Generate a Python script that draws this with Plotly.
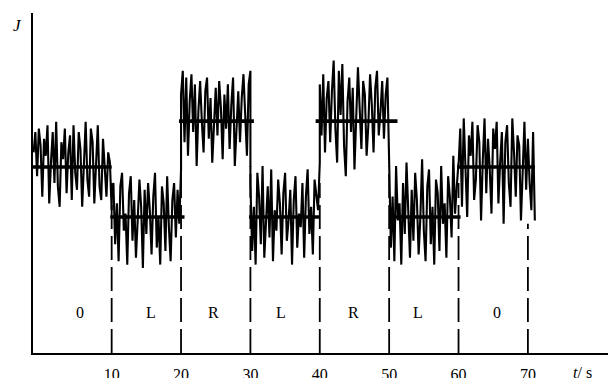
import numpy as np
import plotly.graph_objects as go

# --- data ---------------------------------------------------------------
tick_vals = [10, 20, 30, 40, 50, 60, 70]
tick_text = ["10", "20", "30", "40", "50", "60", "70"]

state_labels = ["0", "L", "R", "L", "R", "L", "0"]
label_t = [5.5, 15.7, 24.7, 34.4, 44.8, 54.1, 65.5]

seg_start = [-1.25, 10, 20, 30, 40, 50, 60]
seg_end = [10, 20, 30, 40, 50, 60, 71]

mean_start = [-1.35, 9.8, 19.7, 29.8, 39.4, 50.0, 59.8]
mean_end = [10.0, 20.5, 30.5, 40.0, 51.2, 60.3, 71.0]
mean_J = [5.47, 4.0, 6.82, 4.0, 6.82, 4.0, 5.47]

dash_top = [5.0, 5.5, 5.5, 5.0, 5.5, 5.0, 3.8]

seg_0a = [5.9, 6.5, 5.2, 6.6, 6.1, 4.6, 6.3, 5.8, 6.7, 4.4, 5.6, 6.5, 5.0, 6.8, 4.9,
          4.3, 6.2, 5.7, 6.6, 4.7, 5.9, 6.4, 4.5, 6.7, 5.3, 4.8, 6.5, 6.0, 4.3, 5.5,
          6.8, 5.1, 4.6, 6.6, 6.2, 4.4, 5.8, 6.7, 4.9, 4.5, 6.3, 5.4, 4.6, 5.9, 5.6, 4.2]
seg_L1 = [4.6, 5.0, 3.2, 4.4, 2.7, 4.9, 5.3, 3.6, 4.1, 2.6, 4.7, 5.2, 3.3, 4.5, 2.8,
          3.9, 5.1, 4.3, 2.5, 4.8, 3.5, 5.0, 4.2, 2.9, 4.6, 5.3, 3.1, 4.0, 2.6, 4.9,
          4.4, 3.0, 5.2, 3.7, 2.7, 4.5, 5.0, 3.4, 4.8, 3.8, 5.4]
seg_R1 = [7.6, 8.3, 6.2, 8.1, 5.8, 7.4, 8.2, 6.5, 7.9, 5.5, 7.1, 8.0, 6.8, 5.9, 7.7,
          8.1, 6.3, 7.5, 5.6, 6.9, 7.8, 6.4, 8.0, 7.2, 5.7, 7.6, 6.6, 7.9, 6.0, 7.3,
          8.1, 5.5, 6.8, 7.7, 6.2, 7.5, 8.2, 6.7, 5.8, 7.9, 8.3]
seg_L2 = [5.0, 3.0, 4.3, 2.6, 5.3, 4.6, 3.2, 5.5, 2.8, 4.0, 4.9, 3.4, 5.4, 2.7, 4.2,
          3.6, 5.1, 4.4, 2.9, 4.7, 5.3, 3.3, 3.9, 4.8, 2.6, 4.5, 5.2, 3.1, 4.1, 3.7,
          5.0, 2.8, 4.6, 5.4, 3.5, 4.3, 2.9, 5.1, 4.7, 4.2, 5.6]
seg_R2 = [7.9, 6.4, 8.2, 5.9, 7.5, 8.0, 6.2, 7.7, 8.6, 6.6, 5.6, 8.3, 7.0, 8.5, 6.1,
          5.2, 7.4, 8.1, 6.5, 7.8, 5.4, 6.9, 8.4, 7.2, 6.0, 8.0, 7.6, 5.8, 6.7, 8.2,
          7.3, 5.9, 7.8, 8.3, 6.4, 7.1, 8.0, 6.3, 7.6, 8.1, 5.9]
seg_L3 = [5.2, 3.1, 4.6, 2.7, 5.5, 3.9, 4.4, 2.6, 5.0, 3.5, 5.6, 4.2, 2.8, 4.8, 3.3,
          5.3, 4.5, 2.9, 4.0, 5.7, 3.6, 2.7, 4.9, 5.4, 3.2, 4.3, 2.6, 5.1, 4.7, 3.0,
          5.5, 3.8, 4.4, 2.8, 5.2, 4.6, 3.4, 5.8, 4.1, 4.9, 5.6]
seg_0b = [5.5, 6.6, 4.3, 6.9, 5.2, 4.0, 6.4, 5.8, 6.8, 4.5, 5.1, 6.7, 6.2, 3.9, 5.7,
          6.9, 4.7, 6.3, 5.4, 4.1, 6.6, 6.0, 6.8, 4.4, 5.6, 6.5, 3.8, 6.2, 6.7, 5.0,
          4.3, 6.9, 5.9, 4.6, 6.4, 6.1, 3.9, 5.5, 6.8, 4.8, 6.3, 5.0, 4.2, 6.5, 3.9]

segments = [seg_0a, seg_L1, seg_R1, seg_L2, seg_R2, seg_L3, seg_0b]

# --- figure -------------------------------------------------------------
fig = go.Figure()

# dashed boundaries
for t, top in zip(tick_vals, dash_top):
    fig.add_trace(go.Scatter(x=[t, t], y=[0, top], mode="lines",
                             line=dict(color="black", width=1.8, dash="24px,7px"),
                             hoverinfo="skip", showlegend=False))

# noisy signal
sig_t, sig_J = [], []
for s0, s1, vals in zip(seg_start, seg_end, segments):
    sig_t.extend(np.linspace(s0, s1, len(vals)).tolist())
    sig_J.extend(vals)
fig.add_trace(go.Scatter(x=sig_t, y=sig_J, mode="lines",
                         line=dict(color="black", width=2.1),
                         showlegend=False))

# mean lines
for a, b, m in zip(mean_start, mean_end, mean_J):
    fig.add_trace(go.Scatter(x=[a, b], y=[m, m], mode="lines",
                             line=dict(color="black", width=3.6),
                             showlegend=False))

SERIF = "Liberation Serif, Times New Roman, serif"

# state labels
for lab, t in zip(state_labels, label_t):
    fig.add_annotation(x=t, y=1.2, text=lab, showarrow=False,
                       font=dict(family=SERIF, size=16, color="black"))

fig.add_annotation(xref="paper", yref="paper", x=-0.015, y=0.962,
                   xanchor="right", yanchor="middle",
                   text="<i>J</i>", showarrow=False,
                   font=dict(family=SERIF, size=17, color="black"))
fig.add_annotation(x=77.9, y=0, yref="y", yanchor="top", yshift=-9,
                   text="<i>t</i>/ s", showarrow=False,
                   font=dict(family=SERIF, size=16, color="black"))

# the page body adds an 8px offset, so the figure is 8px smaller
fig.update_layout(
    width=608, height=370,
    margin=dict(l=25, r=0, t=5, b=25, autoexpand=False),
    paper_bgcolor="white", plot_bgcolor="white",
    font=dict(family=SERIF, size=16, color="black"),
    xaxis=dict(range=[-1.34, 82.7], showgrid=False, zeroline=False,
               automargin=False,
               showline=True, linecolor="black", linewidth=2,
               tickmode="array", tickvals=tick_vals, ticktext=tick_text,
               ticks="outside", ticklen=6, tickcolor="rgba(0,0,0,0)",
               tickfont=dict(size=16)),
    yaxis=dict(range=[0, 10], showgrid=False, zeroline=False,
               automargin=False,
               showline=True, linecolor="black", linewidth=2,
               showticklabels=False, ticks=""),
)

fig.write_html("out.html")
